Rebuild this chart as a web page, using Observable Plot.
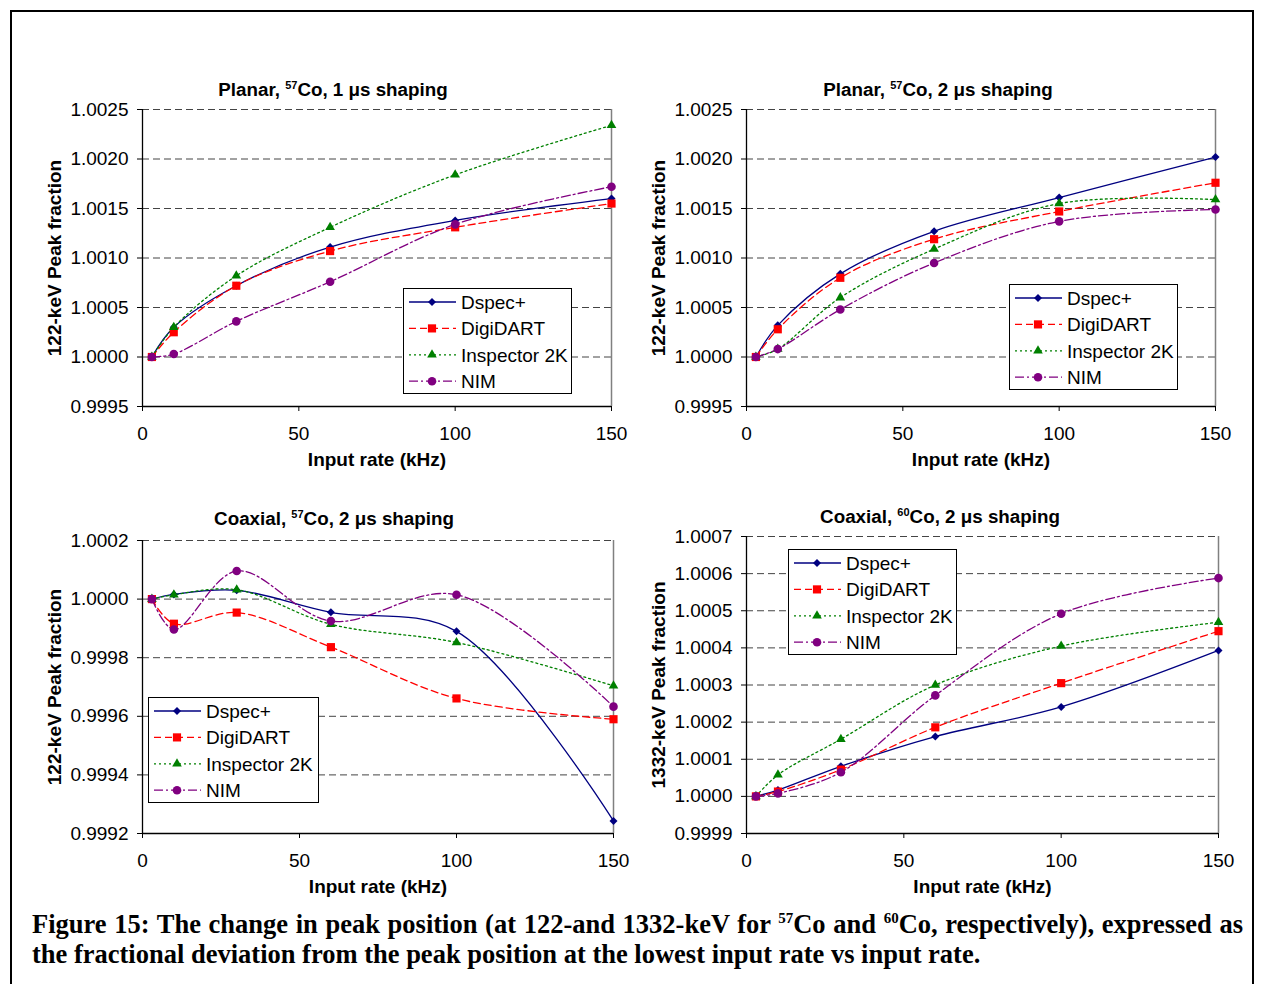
<!DOCTYPE html>
<html>
<head>
<meta charset="utf-8">
<script src="https://cdn.jsdelivr.net/npm/d3@7"></script>
<script src="https://cdn.jsdelivr.net/npm/@observablehq/plot@0.6"></script>
<style>
  body { margin: 0; background: #fff; }
  #page { position: relative; width: 1264px; height: 984px; overflow: hidden; background: #fff;
          font-family: Arial, "Liberation Sans", sans-serif; color: #000; }
  #frame { position: absolute; left: 10px; top: 10px; width: 1244px; height: 1010px;
           border: 2px solid #000; box-sizing: border-box; }
  .panel { position: absolute; }
  .title { position: absolute; font-weight: bold; font-size: 18.8px; white-space: nowrap;
           transform: translate(-50%, -50%); }
  .title sup { font-size: 11px; vertical-align: 7px; }
  .caption { position: absolute; left: 32px; width: 1211px; font-family: "Liberation Serif", "Times New Roman", serif;
             font-weight: bold; font-size: 26.5px; white-space: nowrap; line-height: 30px; }
  .caption sup { font-size: 15px; vertical-align: 10px; line-height: 0; }
  #cap1 { top: 909px; text-align: justify; text-align-last: justify; }
  #cap2 { top: 939px; }
  g[aria-label$="axis label"] { font-weight: bold; }
</style>
</head>
<body>
<div id="page">
  <div id="frame"></div>
  <div class="title" style="left:333px; top:90px;">Planar, <sup>57</sup>Co, 1 μs shaping</div>
  <div class="title" style="left:938px; top:90px;">Planar, <sup>57</sup>Co, 2 μs shaping</div>
  <div class="title" style="left:334px; top:519px;">Coaxial, <sup>57</sup>Co, 2 μs shaping</div>
  <div class="title" style="left:940px; top:517px;">Coaxial, <sup>60</sup>Co, 2 μs shaping</div>
  <div class="caption" id="cap1">Figure 15: The change in peak position (at 122-and 1332-keV for <sup>57</sup>Co and <sup>60</sup>Co, respectively), expressed as</div>
  <div class="caption" id="cap2">the fractional deviation from the peak position at the lowest input rate vs input rate.</div>
</div>
<script>
// ---------------- DATA ----------------
const rates = [3, 10, 30, 60, 100, 150];
const seriesNames = ["Dspec+", "DigiDART", "Inspector 2K", "NIM"];
const xTicks = [0, 50, 100, 150];

// Planar, 57Co, 1 us shaping
const planar1Dspec     = [1.00000, 1.00030, 1.00072, 1.00111, 1.00138, 1.00160];
const planar1DigiDART  = [1.00000, 1.00025, 1.00072, 1.00107, 1.00131, 1.00155];
const planar1Inspector = [1.00000, 1.00030, 1.00082, 1.00131, 1.00184, 1.00234];
const planar1NIM       = [1.00000, 1.00003, 1.00036, 1.00076, 1.00134, 1.00172];

// Planar, 57Co, 2 us shaping
const planar2Dspec     = [1.00000, 1.00032, 1.00084, 1.00127, 1.00161, 1.00202];
const planar2DigiDART  = [1.00000, 1.00028, 1.00080, 1.00119, 1.00147, 1.00176];
const planar2Inspector = [1.00000, 1.00008, 1.00060, 1.00109, 1.00155, 1.00159];
const planar2NIM       = [1.00000, 1.00008, 1.00048, 1.00095, 1.00137, 1.00149];

// Coaxial, 57Co, 2 us shaping
const coax57Dspec     = [1.000000, 1.000016, 1.000030, 0.999955, 0.999890, 0.999243];
const coax57DigiDART  = [1.000000, 0.999916, 0.999954, 0.999836, 0.999661, 0.999590];
const coax57Inspector = [1.000000, 1.000015, 1.000032, 0.999914, 0.999852, 0.999704];
const coax57NIM       = [1.000000, 0.999896, 1.000096, 0.999925, 1.000015, 0.999633];

// Coaxial, 60Co, 2 us shaping
const coax60Dspec     = [1.000000, 1.000017, 1.000081, 1.000161, 1.000241, 1.000393];
const coax60DigiDART  = [1.000000, 1.000013, 1.000072, 1.000186, 1.000305, 1.000445];
const coax60Inspector = [1.000000, 1.000058, 1.000154, 1.000300, 1.000405, 1.000469];
const coax60NIM       = [1.000000, 1.000008, 1.000065, 1.000272, 1.000492, 1.000588];

const yTicksPlanar = [0.9995, 1.0000, 1.0005, 1.0010, 1.0015, 1.0020, 1.0025];
const yTicksCoax57 = [0.9992, 0.9994, 0.9996, 0.9998, 1.0000, 1.0002];
const yTicksCoax60 = [0.9999, 1.0000, 1.0001, 1.0002, 1.0003, 1.0004, 1.0005, 1.0006, 1.0007];

// ---------------- STYLES ----------------
const styles = {
  "Dspec+":       {color: "#000080", dash: null,      symbol: "diamond2",  r: 3.6, d3sym: d3.symbolDiamond2},
  "DigiDART":     {color: "#ff0000", dash: "7,4",     symbol: "square2",   r: 5.2, d3sym: d3.symbolSquare2},
  "Inspector 2K": {color: "#008000", dash: "2,3",     symbol: "triangle2", r: 4.6, d3sym: d3.symbolTriangle2},
  "NIM":          {color: "#800080", dash: "9,3,2,3", symbol: "circle",    r: 4.3, d3sym: d3.symbolCircle}
};

function toRows(arrays) {
  const rows = [];
  seriesNames.forEach((s, i) => arrays[i].forEach((v, j) => rows.push({series: s, rate: rates[j], value: v})));
  return rows;
}

const ML = 122, MR = 25, MT = 20, MB = 80;
const FONT = "Arial, 'Liberation Sans', sans-serif";
const page = document.getElementById("page");

function panel({x0, x1, y0, y1, yTicks, arrays, yLabel, legend}) {
  const rows = toRows(arrays);
  const width = (x1 - x0) + ML + MR;
  const height = (y1 - y0) + MT + MB;
  const yMin = yTicks[0], yMax = yTicks[yTicks.length - 1];
  const marks = [
    Plot.ruleY(yTicks, {stroke: "#444", strokeDasharray: "7,4", strokeWidth: 1}),
    Plot.ruleX([150], {stroke: "#808080", strokeWidth: 1.5})
  ];
  seriesNames.forEach(s => {
    const st = styles[s];
    const data = rows.filter(d => d.series === s);
    marks.push(Plot.line(data, {x: "rate", y: "value", stroke: st.color, strokeWidth: 1.3,
      strokeDasharray: st.dash, curve: "catmull-rom"}));
  });
  seriesNames.forEach(s => {
    const st = styles[s];
    const data = rows.filter(d => d.series === s);
    marks.push(Plot.dot(data, {x: "rate", y: "value", symbol: () => st.symbol, r: st.r, fill: st.color, stroke: "none"}));
  });
  marks.push(
    Plot.ruleX([0], {stroke: "#000", strokeWidth: 1.3}),
    Plot.ruleY([yMin], {stroke: "#000", strokeWidth: 1.3}),
    Plot.axisX({ticks: xTicks, tickSize: 5, tickPadding: 15, tickFormat: d3.format("d"),
      label: "Input rate (kHz)", labelAnchor: "center", labelOffset: 59, labelArrow: "none"}),
    Plot.axisY({ticks: yTicks, tickSize: 5, tickPadding: 9, tickFormat: d3.format(".4f"),
      label: yLabel, labelAnchor: "center", labelOffset: 95, labelArrow: "none"})
  );
  const svg = Plot.plot({
    width, height,
    marginLeft: ML, marginRight: MR, marginTop: MT, marginBottom: MB,
    style: {fontFamily: FONT, fontSize: "19px", color: "#000",
            background: "transparent", overflow: "visible"},
    x: {domain: [0, 150]},
    y: {domain: [yMin, yMax]},
    symbol: {type: "identity"},
    marks
  });
  const div = document.createElement("div");
  div.className = "panel";
  div.style.left = (x0 - ML) + "px";
  div.style.top = (y0 - MT) + "px";
  div.appendChild(svg);
  page.appendChild(div);

  // legend box
  const lg = d3.select(page).append("svg")
    .style("position", "absolute").style("left", legend.left + "px").style("top", legend.top + "px")
    .attr("width", legend.width).attr("height", 106);
  lg.append("rect").attr("x", 0.5).attr("y", 0.5).attr("width", legend.width - 1).attr("height", 105)
    .attr("fill", "#fff").attr("stroke", "#000").attr("stroke-width", 1);
  seriesNames.forEach((s, i) => {
    const st = styles[s];
    const y = 14 + i * 26.4;
    lg.append("line").attr("x1", 6).attr("x2", 53).attr("y1", y).attr("y2", y)
      .attr("stroke", st.color).attr("stroke-width", 1.3).attr("stroke-dasharray", st.dash);
    lg.append("path").attr("transform", `translate(29,${y})`)
      .attr("d", d3.symbol(st.d3sym, Math.PI * st.r * st.r)()).attr("fill", st.color);
    lg.append("text").attr("x", 58).attr("y", y + 6.8).text(s)
      .attr("font-family", FONT).attr("font-size", 19).attr("fill", "#000");
  });
}

panel({x0: 142, x1: 611, y0: 109, y1: 406, yTicks: yTicksPlanar,
  arrays: [planar1Dspec, planar1DigiDART, planar1Inspector, planar1NIM],
  yLabel: "122-keV Peak fraction", legend: {left: 403, top: 288, width: 169}});
panel({x0: 746, x1: 1215, y0: 109, y1: 406, yTicks: yTicksPlanar,
  arrays: [planar2Dspec, planar2DigiDART, planar2Inspector, planar2NIM],
  yLabel: "122-keV Peak fraction", legend: {left: 1009, top: 284, width: 169}});
panel({x0: 142, x1: 613, y0: 540, y1: 833, yTicks: yTicksCoax57,
  arrays: [coax57Dspec, coax57DigiDART, coax57Inspector, coax57NIM],
  yLabel: "122-keV Peak fraction", legend: {left: 148, top: 697, width: 171}});
panel({x0: 746, x1: 1218, y0: 536, y1: 833, yTicks: yTicksCoax60,
  arrays: [coax60Dspec, coax60DigiDART, coax60Inspector, coax60NIM],
  yLabel: "1332-keV Peak fraction", legend: {left: 788, top: 549, width: 169}});
</script>
</body>
</html>
